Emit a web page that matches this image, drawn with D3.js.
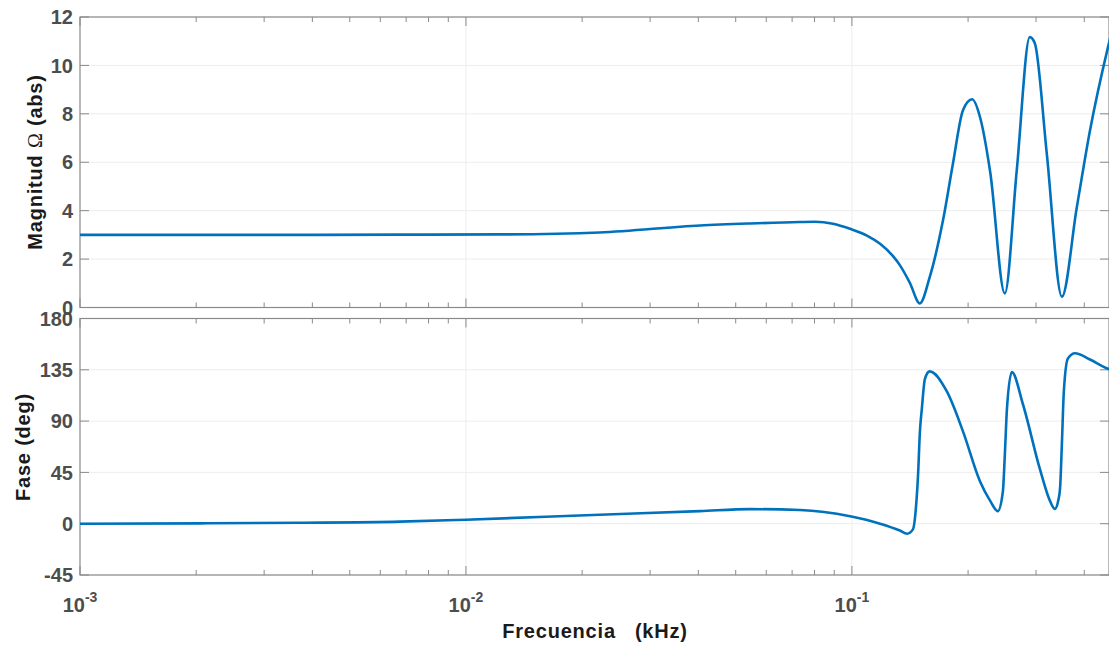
<!DOCTYPE html>
<html><head><meta charset="utf-8">
<script src="https://cdn.jsdelivr.net/npm/d3@7"></script>
<style>body{margin:0;background:#fff} svg{display:block}</style>
</head><body><svg id="c" width="1109" height="646"></svg>
<script>
// ---- data ----
const magFreq = [0.001,0.00205,0.00372,0.00675,0.01225,0.0222,0.0404,0.0544,0.0733,0.0802,0.0893,0.0989,0.1094,0.1183,0.1278,0.1331,0.1413,0.150,0.159,0.1722,0.1828,0.194,0.2049,0.2148,0.2282,0.2490,0.2674,0.2890,0.2978,0.3198,0.3500,0.3826,0.4138,0.4607,0.48];
const magVal  = [3.00,3.00,3.00,3.01,3.02,3.10,3.39,3.47,3.53,3.54,3.46,3.25,2.97,2.63,2.12,1.75,1.02,0.17,1.24,3.60,5.96,8.15,8.60,7.86,5.60,0.58,5.67,11.17,10.92,6.37,0.45,4.14,7.30,10.75,11.9];
const phaseFreq = [0.001,0.00205,0.00372,0.00675,0.01,0.0222,0.0404,0.0544,0.0733,0.0989,0.1183,0.1331,0.1390,0.1439,0.1466,0.1484,0.150,0.1518,0.1546,0.159,0.1762,0.194,0.2148,0.2282,0.2388,0.2461,0.2490,0.2522,0.2597,0.2773,0.3069,0.3260,0.3356,0.3423,0.3462,0.3500,0.3541,0.3628,0.3785,0.4138,0.4607,0.48];
const phaseVal  = [0,0.3,0.8,1.8,3.5,7.9,11.0,12.8,12.0,6.5,0,-6,-8.8,-5,15,43,80,101,127,133.6,116,81,37,20,11,28,60,101,133,105,48,20,13,20,31,70,116,145,149.5,144,136,134];
const magTicks = [0,2,4,6,8,10,12];
const phaseTicks = [-45,0,45,90,135,180];
const xMajor = [1e-3,1e-2,1e-1];
const xExp = ["-3","-2","-1"];
const xDomain = [1e-3, 0.4636];
const magLabel = ["Magnitud ", "\u03A9", " (abs)"];
const phaseLabel = "Fase (deg)";
const xLabel = "Frecuencia\u00A0\u00A0\u00A0(kHz)";

// ---- layout ----
const svg = d3.select("#c");
const L = 80, R = 1109;
const font = "'Liberation Sans', Arial, Helvetica, sans-serif";
const tickCol = "#4d4d4d", frameCol = "#8a8a8a", gridCol = "#ededed", lineCol = "#0072BD";
const x = d3.scaleLog().domain(xDomain).range([L, R]);
const xt = x.ticks().filter(d => d >= xDomain[0] && d <= xDomain[1]);
const isMajor = d => Math.abs(Math.log10(d) - Math.round(Math.log10(d))) < 1e-9;

function panel(id, top, bottom, yDomain, yTicks, fx, fy) {
  const y = d3.scaleLinear().domain(yDomain).range([bottom, top]);
  const g = svg.append("g");
  svg.append("clipPath").attr("id", id).append("rect")
    .attr("x", L).attr("y", top).attr("width", R - L).attr("height", bottom - top);
  g.selectAll(".gy").data(yTicks).join("line")
    .attr("x1", L).attr("x2", R).attr("y1", d => y(d)).attr("y2", d => y(d))
    .attr("stroke", gridCol).attr("stroke-width", 1);
  g.selectAll(".gx").data(xMajor.filter(d => d > xDomain[0])).join("line")
    .attr("x1", d => x(d)).attr("x2", d => x(d)).attr("y1", top).attr("y2", bottom)
    .attr("stroke", gridCol).attr("stroke-width", 1);
  g.append("rect").attr("x", L).attr("y", top).attr("width", R - L).attr("height", bottom - top)
    .attr("fill", "none").attr("stroke", frameCol).attr("stroke-width", 1.2);
  [bottom, top].forEach((yy, i) => {
    const dir = i === 0 ? -1 : 1;
    g.selectAll(null).data(xt).join("line")
      .attr("x1", d => x(d)).attr("x2", d => x(d))
      .attr("y1", yy).attr("y2", d => yy + dir * (isMajor(d) ? 9 : 5))
      .attr("stroke", frameCol).attr("stroke-width", 1);
  });
  [L, R].forEach((xx, i) => {
    const dir = i === 0 ? 1 : -1;
    g.selectAll(null).data(yTicks).join("line")
      .attr("x1", xx).attr("x2", xx + dir * 9)
      .attr("y1", d => y(d)).attr("y2", d => y(d))
      .attr("stroke", frameCol).attr("stroke-width", 1);
  });
  g.selectAll(null).data(yTicks).join("text")
    .attr("x", 73).attr("y", d => y(d)).attr("dy", "0.36em")
    .attr("text-anchor", "end").attr("font-family", font).attr("font-weight", "bold")
    .attr("font-size", 20).attr("fill", tickCol).text(d => d);
  const data = fx.map((f, i) => [f, fy[i]]);
  svg.append("path").datum(data)
    .attr("clip-path", `url(#${id})`)
    .attr("d", d3.line().x(d => x(d[0])).y(d => y(d[1])).curve(d3.curveMonotoneX))
    .attr("fill", "none").attr("stroke", lineCol).attr("stroke-width", 2.6)
    .attr("stroke-linejoin", "round");
  return y;
}

panel("clipTop", 17, 307.5, [0, 12], magTicks, magFreq, magVal);
panel("clipBot", 318.5, 575, [-45, 180], phaseTicks, phaseFreq, phaseVal);

const xl = svg.selectAll(null).data(xMajor).join("text")
  .attr("x", d => x(d)).attr("y", 612).attr("text-anchor", "middle")
  .attr("font-family", font).attr("font-weight", "bold").attr("fill", tickCol).attr("font-size", 20);
xl.append("tspan").text("10");
xl.append("tspan").attr("font-size", 14).attr("dy", -10).text((d, i) => xExp[i]);

svg.append("text").attr("x", 595).attr("y", 638).attr("text-anchor", "middle")
  .attr("font-family", font).attr("font-weight", "bold").attr("font-size", 20)
  .attr("letter-spacing", 0.8).attr("fill", "#1a1a1a").text(xLabel);

const ml = svg.append("text").attr("transform", "translate(42,162) rotate(-90)")
  .attr("text-anchor", "middle").attr("font-family", font).attr("font-weight", "bold")
  .attr("font-size", 20).attr("letter-spacing", 0.8).attr("fill", "#1a1a1a");
ml.append("tspan").text(magLabel[0]);
ml.append("tspan").attr("font-family", "'Liberation Serif', 'DejaVu Serif', serif").attr("font-weight", "normal").text(magLabel[1]);
ml.append("tspan").text(magLabel[2]);

svg.append("text").attr("transform", "translate(30,447) rotate(-90)")
  .attr("text-anchor", "middle").attr("font-family", font).attr("font-weight", "bold")
  .attr("font-size", 20).attr("letter-spacing", 0.8).attr("fill", "#1a1a1a").text(phaseLabel);
</script></body></html>
